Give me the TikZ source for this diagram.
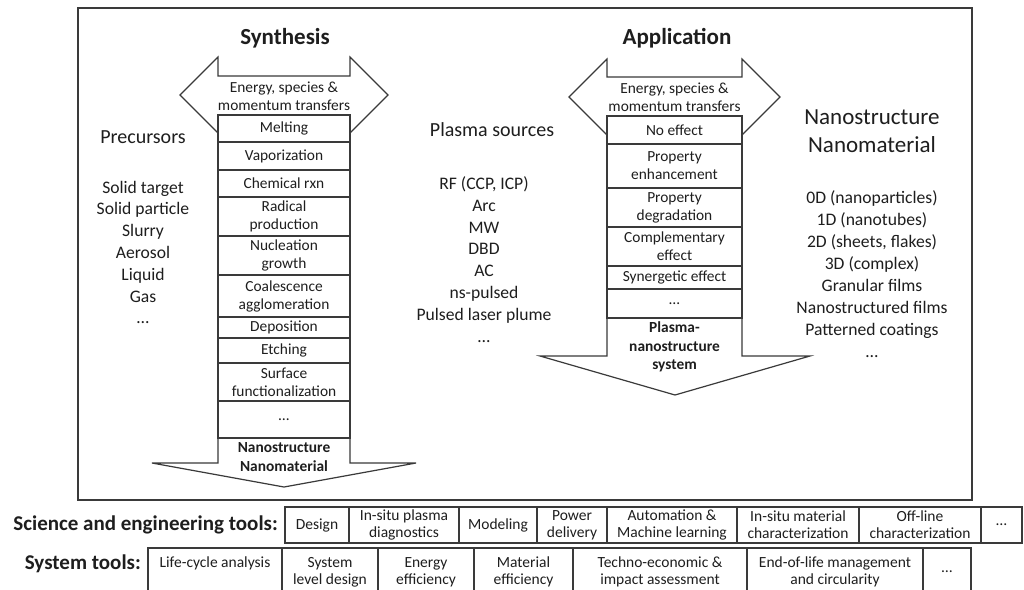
\documentclass[tikz,border=0pt]{standalone}
\usepackage{fontspec}
\setmainfont{Carlito}
\definecolor{ln}{HTML}{3A3A3A}
\definecolor{tx}{HTML}{1E1E1E}
\begin{document}
\begin{tikzpicture}[x=1pt,y=-1pt,
  every node/.style={text=tx, inner sep=0pt},
  outline/.style={draw=ln, line width=1.2pt, line join=miter, fill=white},
  cell/.style={draw=ln, line width=1.2pt, rectangle, align=center, font=\fontsize{15.4}{18}\selectfont},
  celltext/.style={align=center, font=\fontsize{15.4}{18}\selectfont},
  tool/.style={draw=ln, line width=1.2pt, rectangle, align=center, font=\fontsize{15.5}{17}\selectfont},
  title/.style={font=\bfseries\fontsize{23}{27}\selectfont},
  heading/.style={align=center, font=\fontsize{20}{24}\selectfont},
  list/.style={align=center, font=\fontsize{17.6}{21.8}\selectfont},
  rowlabel/.style={anchor=east, font=\bfseries\fontsize{21}{25}\selectfont}
]
\useasboundingbox (0,0) rectangle (1024,589);
\fill[white] (0,0) rectangle (1024,589);

% frame
\draw[draw=ln, line width=1.4pt] (78,8) rectangle (972,500);

% titles
\node[title] (tsyn) at (285,38) {Synthesis};
\node[title] (tapp) at (677,38) {Application};

% synthesis arrow outline
\draw[outline] (218,76) -- (218,57) -- (180,95) -- (218,133) -- (218,463) -- (152,463)
  -- (284,487) -- (416,463) -- (350,463) -- (350,133) -- (388,95) -- (350,57) -- (350,76) -- cycle;
\node[celltext] (esyn) at (284,96) {Energy, species \&\\momentum transfers};
\node[cell, minimum width=132pt, minimum height=27pt] (s1) at (284,128.5) {Melting};
\node[cell, minimum width=132pt, minimum height=28pt] (s2) at (284,156) {Vaporization};
\node[cell, minimum width=132pt, minimum height=27pt] (s3) at (284,183.5) {Chemical rxn};
\node[cell, minimum width=132pt, minimum height=39pt] (s4) at (284,216.5) {Radical\\production};
\node[cell, minimum width=132pt, minimum height=39pt] (s5) at (284,255.5) {Nucleation\\growth};
\node[cell, minimum width=132pt, minimum height=42pt] (s6) at (284,296) {Coalescence\\agglomeration};
\node[cell, minimum width=132pt, minimum height=21pt] (s7) at (284,327.5) {Deposition};
\node[cell, minimum width=132pt, minimum height=25pt] (s8) at (284,350.5) {Etching};
\node[cell, minimum width=132pt, minimum height=38pt] (s9) at (284,382) {Surface\\functionalization};
\node[cell, minimum width=132pt, minimum height=37pt] (s10) at (284,419.5) {…};
\node[celltext, font=\bfseries\fontsize{15.4}{19}\selectfont] (s11) at (284,457.5) {Nanostructure\\Nanomaterial};

% application arrow outline
\draw[outline] (607,77) -- (607,59) -- (569,97) -- (607,135) -- (607,356) -- (540,356)
  -- (675,395) -- (810,356) -- (742,356) -- (742,135) -- (780,97) -- (742,59) -- (742,77) -- cycle;
\node[celltext] (eapp) at (674.5,97.5) {Energy, species \&\\momentum transfers};
\node[cell, minimum width=135pt, minimum height=28pt] (a1) at (674.5,130) {No effect};
\node[cell, minimum width=135pt, minimum height=44pt] (a2) at (674.5,166) {Property\\enhancement};
\node[cell, minimum width=135pt, minimum height=39pt] (a3) at (674.5,207.5) {Property\\degradation};
\node[cell, minimum width=135pt, minimum height=39pt] (a4) at (674.5,246.5) {Complementary\\effect};
\node[cell, minimum width=135pt, minimum height=23pt] (a5) at (674.5,277.5) {Synergetic effect};
\node[cell, minimum width=135pt, minimum height=29pt] (a6) at (674.5,303.5) {…};
\node[celltext, font=\bfseries\fontsize{15.4}{18.5}\selectfont] (a7) at (674.5,347) {Plasma-\\nanostructure\\system};

% side lists
\node[heading] (hpre) at (143,137) {Precursors};
\node[list] (lpre) at (143,252.5) {Solid target\\Solid particle\\Slurry\\Aerosol\\Liquid\\Gas\\…};
\node[heading] (hpla) at (492,130) {Plasma sources};
\node[list] (lpla) at (484,259.5) {RF (CCP, ICP)\\Arc\\MW\\DBD\\AC\\ns-pulsed\\Pulsed laser plume\\…};
\node[heading, font=\fontsize{23}{28}\selectfont] (hnan) at (872,131) {Nanostructure\\Nanomaterial};
\node[list, font=\fontsize{17.6}{22}\selectfont] (lnan) at (872,274) {0D (nanoparticles)\\1D (nanotubes)\\2D (sheets, flakes)\\3D (complex)\\Granular films\\Nanostructured films\\Patterned coatings\\…};

% science and engineering tools
\node[rowlabel] (lsci) at (278,525) {Science and engineering tools:};
\node[tool, minimum width=64pt, minimum height=36pt] (t1) at (317,525) {Design};
\node[tool, minimum width=110pt, minimum height=36pt] (t2) at (404,525) {In-situ plasma\\diagnostics};
\node[tool, minimum width=78pt, minimum height=36pt] (t3) at (498,525) {Modeling};
\node[tool, minimum width=70pt, minimum height=36pt] (t4) at (572,525) {Power\\delivery};
\node[tool, minimum width=130pt, minimum height=36pt] (t5) at (672,525) {Automation \&\\Machine learning};
\node[tool, minimum width=122pt, minimum height=36pt] (t6) at (798,525) {In-situ material\\characterization};
\node[tool, minimum width=122pt, minimum height=36pt] (t7) at (920,525) {Off-line\\characterization};
\node[tool, minimum width=41pt, minimum height=36pt] (t8) at (1001.5,525) {…};

% system tools
\node[rowlabel] (lsys) at (141,564) {System tools:};
\node[tool, minimum width=134pt, minimum height=48pt, text depth=19pt] (u1) at (215,572) {Life-cycle analysis};
\node[tool, minimum width=96pt, minimum height=48pt] (u2) at (330,572) {System\\level design};
\node[tool, minimum width=96pt, minimum height=48pt] (u3) at (426,572) {Energy\\efficiency};
\node[tool, minimum width=99pt, minimum height=48pt] (u4) at (523.5,572) {Material\\efficiency};
\node[tool, minimum width=174pt, minimum height=48pt] (u5) at (660,572) {Techno-economic \&\\impact assessment};
\node[tool, minimum width=176pt, minimum height=48pt] (u6) at (835,572) {End-of-life management\\and circularity};
\node[tool, minimum width=48pt, minimum height=48pt] (u7) at (947,572) {…};
\end{tikzpicture}
\end{document}
